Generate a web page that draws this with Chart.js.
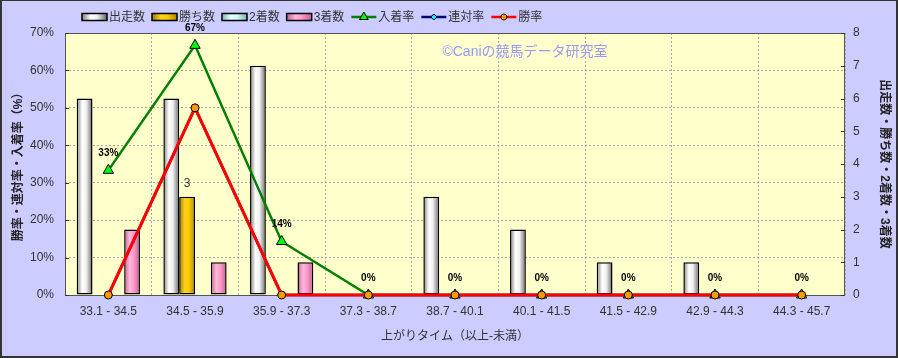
<!DOCTYPE html>
<html><head><meta charset="utf-8">
<script src="https://cdn.jsdelivr.net/npm/chart.js@4.4.0/dist/chart.umd.min.js"></script>
<style>html,body{margin:0;padding:0;background:#CCCCFF;}#wrap{width:898px;height:358px;position:relative;}</style>
</head><body><div id="wrap"><canvas id="c" width="898" height="358"></canvas></div>
<script>
const categories = ['33.1 - 34.5','34.5 - 35.9','35.9 - 37.3','37.3 - 38.7','38.7 - 40.1','40.1 - 41.5','41.5 - 42.9','42.9 - 44.3','44.3 - 45.7'];
const runners   = [6,6,7,0,3,2,1,1,0];
const wins      = [0,3,0,0,0,0,0,0,0];
const seconds   = [0,0,0,0,0,0,0,0,0];
const thirds    = [2,1,1,0,0,0,0,0,0];
const placeRate = [33.3,66.7,14.3,0,0,0,0,0,0];
const rentaiRate= [0,50,0,0,0,0,0,0,0];
const winRate   = [0,50,0,0,0,0,0,0,0];
const seriesNames = ['出走数','勝ち数','2着数','3着数','入着率','連対率','勝率'];
const pctAxisTitle = '勝率・連対率・入着率（%）';
const cntAxisTitle = '出走数・勝ち数・2着数・3着数';
const xAxisTitle = '上がりタイム（以上-未満）';
const watermark = '©Caniの競馬データ研究室';

const FONT = "'Liberation Sans','Noto Sans CJK JP',sans-serif";
const CP = 0.73;
const barStops = [
  ['#808080','#ffffff','#f0f0f0','#686868'],
  ['#a07800','#ffd21a','#ffcc00','#b08800'],
  ['#7fb8b8','#e8ffff','#ccffff','#7fb0b0'],
  ['#c06090','#ffb8dd','#ff99cc','#c06090']
];
function makeGrad(c, left, w, s){
  const g = c.createLinearGradient(left,0,left+w,0);
  g.addColorStop(0,s[0]); g.addColorStop(0.35,s[1]); g.addColorStop(0.6,s[2]); g.addColorStop(1,s[3]);
  return g;
}
function barBg(k){
  return function(ctx){
    const chart = ctx.chart, xs = chart.scales.x;
    if(!xs || ctx.type !== 'data') return barStops[k][2];
    const catW = (xs.right - xs.left)/categories.length;
    const groupW = catW*CP, slot = groupW/4;
    const left = xs.getPixelForValue(ctx.dataIndex) - groupW/2 + slot*k;
    if(!isFinite(left) || !isFinite(slot) || slot<=0) return barStops[k][2];
    return makeGrad(chart.ctx, left, slot, barStops[k]);
  };
}

const lineStyles = [
  {color:'#008000', fill:'#00ff00', style:'triangle', r:6, w:2.5},
  {color:'#000080', fill:'#00ffff', style:'rectRot', r:4, w:2.5},
  {color:'#ff0000', fill:'#ff9900', style:'circle', r:4, w:3}
];

const decorPlugin = {
  id:'decor',
  beforeDraw(chart){
    const c = chart.ctx, a = chart.chartArea;
    c.save();
    c.fillStyle = '#CCCCFF'; c.fillRect(0,0,chart.width,chart.height);
    c.fillStyle = '#FFFFCC'; c.fillRect(a.left,a.top,a.right-a.left,a.bottom-a.top);
    c.restore();
  },
  beforeDatasetsDraw(chart){
    const c = chart.ctx, a = chart.chartArea;
    c.save();
    c.font = '14px ' + FONT; c.fillStyle = '#9999ff'; c.textAlign='center'; c.textBaseline='middle';
    c.fillText(watermark, 525, 52);
    c.strokeStyle = '#555'; c.lineWidth = 1;
    c.strokeRect(a.left+0.5, a.top+0.5, a.right-a.left-1, a.bottom-a.top);
    c.strokeStyle = '#333';
    const ys = chart.scales.y, y1 = chart.scales.y1;
    ys.ticks.forEach(t=>{const p=Math.round(ys.getPixelForValue(t.value))+0.5; c.beginPath(); c.moveTo(a.left,p); c.lineTo(a.left+4,p); c.stroke();});
    y1.ticks.forEach(t=>{const p=Math.round(y1.getPixelForValue(t.value))+0.5; c.beginPath(); c.moveTo(a.right-4,p); c.lineTo(a.right,p); c.stroke();});
    c.restore();
  },
  afterDraw(chart){
    const c = chart.ctx, a = chart.chartArea;
    c.save();
    const m = chart.getDatasetMeta(4);
    c.font = 'bold 10px ' + FONT; c.fillStyle = '#000'; c.textAlign='center'; c.textBaseline='middle';
    m.data.forEach((el,i)=>{ c.fillText(Math.round(placeRate[i])+'%', el.x, el.y-17); });
    const mw = chart.getDatasetMeta(1);
    c.font = '12px ' + FONT; c.fillStyle = '#333';
    mw.data.forEach((el,i)=>{ if(wins[i]>0) c.fillText(String(wins[i]), el.x, el.y-13); });
    c.font = 'bold 12px ' + FONT; c.fillStyle = '#222';
    c.save(); c.translate(19, (a.top+a.bottom)/2); c.rotate(-Math.PI/2); c.fillText(pctAxisTitle,0,0); c.restore();
    c.save(); c.translate(884, (a.top+a.bottom)/2); c.rotate(Math.PI/2); c.fillText(cntAxisTitle,0,0); c.restore();
    c.font = '12px ' + FONT; c.fillStyle = '#333';
    c.fillText(xAxisTitle, (a.left+a.right)/2, 337);
    c.font = '12px ' + FONT; c.textAlign='left';
    let x = 82; const ly = 17;
    seriesNames.forEach((name,i)=>{
      if(i<4){
        c.fillStyle = makeGrad(c, x, 25, barStops[i]);
        c.fillRect(x, ly-3.5, 25, 7);
        c.strokeStyle = '#000'; c.lineWidth = 1.5; c.strokeRect(x, ly-3.5, 25, 7);
      } else {
        const s = lineStyles[i-4];
        c.strokeStyle = s.color; c.lineWidth = 2.5;
        c.beginPath(); c.moveTo(x, ly); c.lineTo(x+25, ly); c.stroke();
        c.fillStyle = s.fill; c.strokeStyle = '#000'; c.lineWidth = 1;
        Chart.helpers.drawPoint(c, {pointStyle:s.style, radius:s.r-1, rotation:0, borderWidth:1}, x+12.5, ly);
      }
      x += 27;
      c.fillStyle = '#333';
      c.fillText(name, x, ly+1);
      x += c.measureText(name).width + 7;
    });
    c.fillStyle = '#333';
    c.fillRect(0,0,chart.width,1); c.fillRect(0,0,2,chart.height);
    c.fillRect(chart.width-2,0,2,chart.height); c.fillRect(0,chart.height-2,chart.width,2);
    c.restore();
  }
};

const barSets = [runners,wins,seconds,thirds].map((d,k)=>({
  type:'bar', label:seriesNames[k], data:d, yAxisID:'y1', order:10,
  backgroundColor: barBg(k), borderColor:'#000', borderWidth:1.5,
  categoryPercentage:CP, barPercentage:1.0, borderSkipped:false
}));
const lineSets = [placeRate,rentaiRate,winRate].map((d,k)=>({
  type:'line', label:seriesNames[4+k], data:d, yAxisID:'y', order:3-k,
  borderColor:lineStyles[k].color, borderWidth:lineStyles[k].w, tension:0,
  pointStyle:lineStyles[k].style, pointRadius:lineStyles[k].r, pointBackgroundColor:lineStyles[k].fill,
  pointBorderColor:'#000', pointBorderWidth:1, clip:false
}));

new Chart(document.getElementById('c'), {
  type:'bar',
  data:{labels:categories, datasets:[...barSets, ...lineSets]},
  options:{
    responsive:false, animation:false,
    layout:{padding:{top:33,left:0,right:0,bottom:0}},
    plugins:{legend:{display:false}, tooltip:{enabled:false}},
    scales:{
      x:{offset:true, grid:{color:'#a8a8a8', drawTicks:false, offset:true}, border:{display:false, dash:[2,2]},
         ticks:{padding:9, color:'#333', font:{family:FONT, size:12}, maxRotation:0, autoSkip:false},
         afterFit(s){ s.height = 63; }},
      y:{position:'left', min:0, max:70, grid:{color:'#a8a8a8', drawTicks:false}, border:{display:false, dash:[2,2]},
         ticks:{stepSize:10, padding:11, color:'#333', font:{family:FONT, size:12}, callback:v=>v+'%'},
         afterFit(s){ s.width = 65; }},
      y1:{position:'right', min:0, max:8, grid:{drawOnChartArea:false, drawTicks:false}, border:{display:false},
         ticks:{stepSize:1, padding:8, color:'#333', font:{family:FONT, size:12}},
         afterFit(s){ s.width = 53; }}
    }
  },
  plugins:[decorPlugin]
});
</script></body></html>
